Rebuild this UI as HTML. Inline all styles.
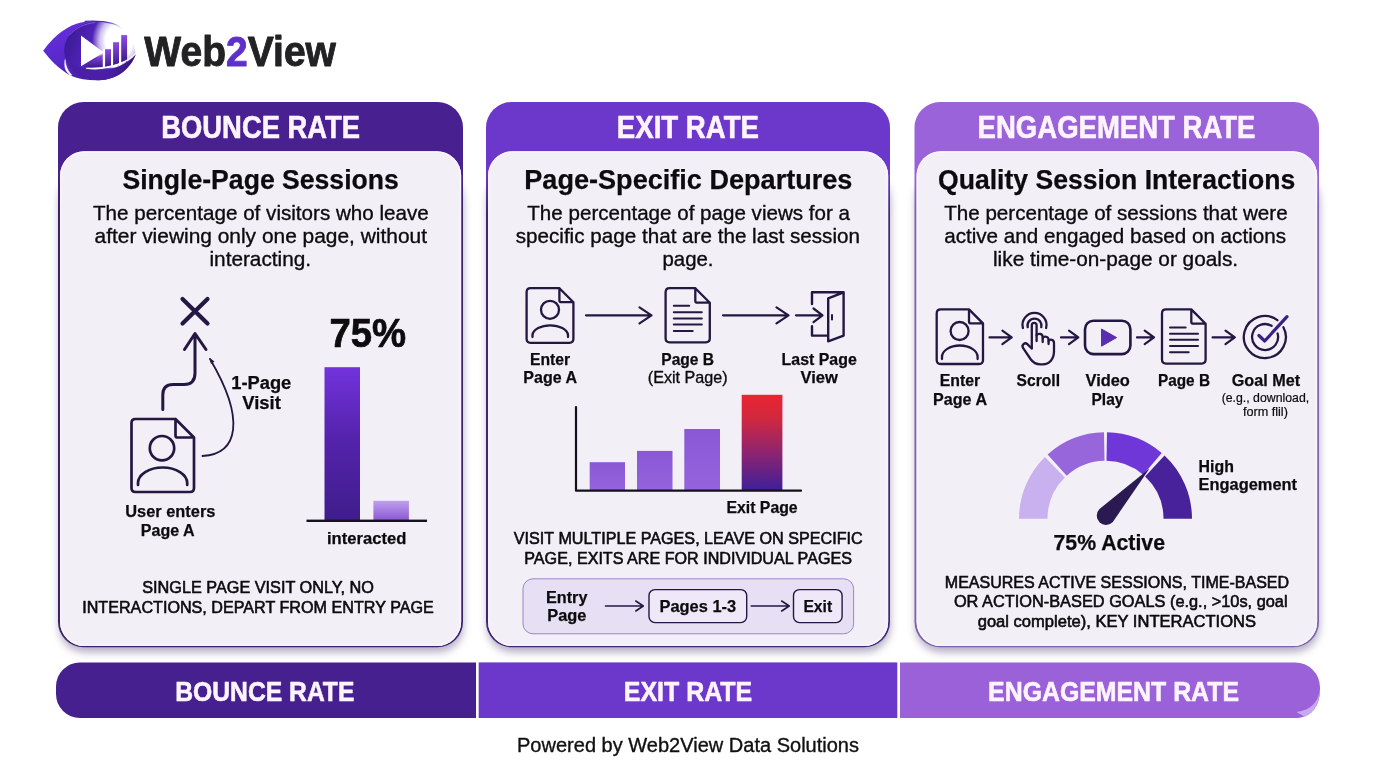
<!DOCTYPE html>
<html lang="en">
<head>
<meta charset="utf-8">
<title>Web2View - Bounce Rate vs Exit Rate vs Engagement Rate</title>
<style>
html,body{margin:0;padding:0;background:#ffffff;}
body{width:1376px;height:768px;overflow:hidden;position:relative;}
svg{position:absolute;left:0;top:0;display:block;}
svg text{font-family:"Liberation Sans",sans-serif;white-space:pre;}
</style>
</head>
<body>
<svg width="1376" height="768" viewBox="0 0 1376 768">
<defs>
<filter id="blur" x="-10%" y="-10%" width="120%" height="120%"><feGaussianBlur stdDeviation="4.5"/></filter>
<filter id="sh" x="-10%" y="-10%" width="120%" height="125%"><feGaussianBlur in="SourceAlpha" stdDeviation="5"/><feOffset dx="1" dy="4"/><feComponentTransfer><feFuncA type="linear" slope="0.28"/></feComponentTransfer><feMerge><feMergeNode/><feMergeNode in="SourceGraphic"/></feMerge></filter>
<linearGradient id="bar1" x1="0" y1="0" x2="0" y2="1"><stop offset="0" stop-color="#7233dc"/><stop offset="0.45" stop-color="#5523ad"/><stop offset="1" stop-color="#3f1d8c"/></linearGradient>
<linearGradient id="bar2" x1="0" y1="0" x2="0" y2="1"><stop offset="0" stop-color="#bfa0ee"/><stop offset="1" stop-color="#8a57d2"/></linearGradient>
<linearGradient id="barp" x1="0" y1="0" x2="0" y2="1"><stop offset="0" stop-color="#8a58d6"/><stop offset="1" stop-color="#9463dc"/></linearGradient>
<linearGradient id="barr" x1="0" y1="0" x2="0" y2="1"><stop offset="0" stop-color="#ea2430"/><stop offset="0.25" stop-color="#d0283f"/><stop offset="0.6" stop-color="#8f2470"/><stop offset="1" stop-color="#3d1f98"/></linearGradient>
<linearGradient id="h1" x1="0" y1="0" x2="1" y2="0"><stop offset="0" stop-color="#4a1f9e"/><stop offset="1" stop-color="#471e96"/></linearGradient>
<linearGradient id="eye" x1="0" y1="0" x2="0.6" y2="1"><stop offset="0" stop-color="#6a30e2"/><stop offset="0.6" stop-color="#5628c8"/><stop offset="1" stop-color="#42209e"/></linearGradient>
<radialGradient id="iris" cx="0.68" cy="0.25" r="0.55"><stop offset="0" stop-color="#ffffff"/><stop offset="0.22" stop-color="#efe6ff"/><stop offset="0.5" stop-color="#6d30d6"/><stop offset="1" stop-color="#3a1a8a"/></radialGradient>
<linearGradient id="lb" x1="0" y1="0" x2="0" y2="1"><stop offset="0" stop-color="#8f4ae4"/><stop offset="1" stop-color="#3b1a8c"/></linearGradient>
<linearGradient id="irisbase" x1="0" y1="0.3" x2="1" y2="0.6"><stop offset="0" stop-color="#3a1a92"/><stop offset="0.25" stop-color="#4a20ae"/><stop offset="0.55" stop-color="#5a28c8"/><stop offset="1" stop-color="#3a1a8a"/></linearGradient>
<radialGradient id="hl" cx="0.5" cy="0.5" r="0.5"><stop offset="0" stop-color="#ffffff" stop-opacity="1"/><stop offset="0.5" stop-color="#ffffff" stop-opacity="1"/><stop offset="0.72" stop-color="#ffffff" stop-opacity="0.7"/><stop offset="1" stop-color="#ffffff" stop-opacity="0"/></radialGradient>
<linearGradient id="topl" gradientUnits="userSpaceOnUse" x1="85" y1="0" x2="122" y2="0"><stop offset="0" stop-color="#4a22b0"/><stop offset="0.6" stop-color="#4a22b0" stop-opacity="0.9"/><stop offset="1" stop-color="#4a22b0" stop-opacity="0"/></linearGradient>
<linearGradient id="cres" x1="0" y1="0" x2="1" y2="0"><stop offset="0" stop-color="#4a1fa6"/><stop offset="0.6" stop-color="#4a1fa6"/><stop offset="1" stop-color="#35177c"/></linearGradient>
</defs>
<g id="logo">
<path d="M43.2,50.8 C45,48.5 47,45.6 49.1,43.3 C52,40 55,37 58.2,34.2 C61,31.8 64,29.7 67.3,27.9 C70.2,26.2 73.3,24.8 76.5,23.7 C79.5,22.8 82.5,22.2 85.6,21.8 C89,21.3 93,20.9 96.4,20.9 C103,21 109,22 114.1,23.5 C120,25.5 126,30 129.5,36 C132.5,41 134.5,47 135.8,54.2 C133.5,60 131,63.5 127.7,66.2 C124,71 119,74.5 114.1,76.6 C109,79 104,80.2 98.5,80.2 C93,80.3 88,80 82.9,79.2 C78.5,78.4 74.6,77.2 71,75.7 C69,74.8 67.2,73.7 65.5,72.5 C63,70.8 60.5,69 58.2,67 C55,64.2 52,61 49.1,57.9 C47,55.6 45,53 43.2,50.8 Z" fill="url(#eye)"/>
<ellipse cx="99" cy="50.5" rx="34.8" ry="29.6" fill="url(#irisbase)"/>
<clipPath id="irc"><path d="M60,15 H140 V85 H60 Z"/></clipPath>
<g clip-path="url(#irc)"><ellipse cx="119" cy="41" rx="27" ry="33" fill="url(#hl)"/></g>
<path d="M69.5,35 C75,28.5 84,23.6 95,22.6" fill="none" stroke="#8d62ee" stroke-width="0.9" stroke-linecap="round" opacity="0.85"/>
<path d="M85,21.4 C93,20.6 104,21.4 112.3,23.4 C116,24.4 119,26 121,28" fill="none" stroke="url(#topl)" stroke-width="1.1" stroke-linecap="round"/>
<path d="M65.1,59.6 C65.3,63 66.3,67 68.3,70.5 C69.3,72.3 70.4,73.6 71.6,74.6 L71,76 C67.5,73 65.5,70.5 64.9,67 C64.5,64.5 64.6,62 65.1,59.6 Z" fill="#fff" stroke="#fff" stroke-width="0.5" stroke-linejoin="round"/>
<path d="M81,35.6 L103.8,52.6 L81,66.3 Z" fill="#fff"/>
<path d="M83,66.6 L102.8,54.6 L102.8,67.4 Z" fill="url(#lb)"/>
<rect x="102.8" y="49" width="19" height="18.6" fill="#fff"/>
<rect x="105.1" y="49.2" width="5.9" height="18" fill="url(#lb)"/>
<rect x="113.1" y="42.2" width="5.9" height="23" fill="url(#lb)"/>
<rect x="121.2" y="35.1" width="5.9" height="27" fill="url(#lb)"/>
<path d="M66.5,61 C70,71 81,80.2 98.5,80.2 C116,80.2 131,69 135.8,54.2 C127,64.5 113,69.8 100,70.3 C93,70.6 87,69.8 83,68.4 L80.5,67.2 C75,66 70,64 66.5,61 Z" fill="url(#cres)"/>
<path d="M86.5,68.2 C101,70.8 124,66 135.6,53.6 C126,63.8 105,69.6 86.5,68.2 Z" fill="#fff" stroke="#fff" stroke-width="1.1" stroke-linejoin="round"/>
</g>
<text x="144.3" y="66.2" font-size="41.8" font-weight="700" fill="#222224" stroke="#222224" stroke-width="0.9" stroke-linejoin="round" textLength="191.7" lengthAdjust="spacingAndGlyphs">Web<tspan fill="#5d30c9" stroke="#5d30c9">2</tspan>View</text>
<linearGradient id="c1" gradientUnits="userSpaceOnUse" x1="0" y1="102" x2="0" y2="647"><stop offset="0" stop-color="#48208f"/><stop offset="0.13" stop-color="#48208f"/><stop offset="0.2" stop-color="#3a2469"/><stop offset="1" stop-color="#3a2469"/></linearGradient>
<rect x="59.5" y="175" width="403.5" height="477" rx="25" fill="#46366f" opacity="0.42" filter="url(#blur)"/>
<rect x="58" y="102" width="405" height="545.3" rx="25.5" fill="url(#c1)"/>
<rect x="60" y="151.2" width="401.2" height="494.9" rx="24.4" fill="#f2eff7"/>
<rect x="60.9" y="152.1" width="399.4" height="493.1" rx="23.5" fill="none" stroke="#f9f3ff" stroke-width="1.6"/>
<linearGradient id="c2" gradientUnits="userSpaceOnUse" x1="0" y1="102" x2="0" y2="647"><stop offset="0" stop-color="#6c37cb"/><stop offset="0.13" stop-color="#6c37cb"/><stop offset="0.2" stop-color="#41297a"/><stop offset="1" stop-color="#41297a"/></linearGradient>
<rect x="487.5" y="175" width="402.5" height="477" rx="25" fill="#46366f" opacity="0.42" filter="url(#blur)"/>
<rect x="486" y="102" width="404" height="545.3" rx="25.5" fill="url(#c2)"/>
<rect x="488" y="151.2" width="400.2" height="494.9" rx="24.4" fill="#f2eff7"/>
<rect x="488.9" y="152.1" width="398.4" height="493.1" rx="23.5" fill="none" stroke="#f9f3ff" stroke-width="1.6"/>
<linearGradient id="c3" gradientUnits="userSpaceOnUse" x1="0" y1="102" x2="0" y2="647"><stop offset="0" stop-color="#9a63d9"/><stop offset="0.13" stop-color="#9a63d9"/><stop offset="0.2" stop-color="#7d63ac"/><stop offset="1" stop-color="#7d63ac"/></linearGradient>
<rect x="916.0" y="175" width="403.0" height="477" rx="25" fill="#46366f" opacity="0.42" filter="url(#blur)"/>
<rect x="914.5" y="102" width="404.5" height="545.3" rx="25.5" fill="url(#c3)"/>
<rect x="916.5" y="151.2" width="400.7" height="494.9" rx="24.4" fill="#f2eff7"/>
<rect x="917.4" y="152.1" width="398.9" height="493.1" rx="23.5" fill="none" stroke="#f9f3ff" stroke-width="1.6"/>
<text x="161.3" y="137.8" font-size="31" font-weight="700" fill="#fdf4ff" textLength="198.7" lengthAdjust="spacingAndGlyphs" stroke="#fdf4ff" stroke-width="0.6" stroke-linejoin="round">BOUNCE RATE</text>
<text x="616.8" y="137.8" font-size="31" font-weight="700" fill="#fdf4ff" textLength="142.2" lengthAdjust="spacingAndGlyphs" stroke="#fdf4ff" stroke-width="0.6" stroke-linejoin="round">EXIT RATE</text>
<text x="977.6" y="137.8" font-size="31" font-weight="700" fill="#fdf4ff" textLength="277.9" lengthAdjust="spacingAndGlyphs" stroke="#fdf4ff" stroke-width="0.6" stroke-linejoin="round">ENGAGEMENT RATE</text>
<text x="122.5" y="189.0" font-size="27.5" font-weight="700" fill="#0c0c0e" textLength="276.3" lengthAdjust="spacingAndGlyphs" stroke="#0c0c0e" stroke-width="0.25" stroke-linejoin="round">Single-Page Sessions</text>
<text x="524.3" y="189.0" font-size="27.5" font-weight="700" fill="#0c0c0e" textLength="328.1" lengthAdjust="spacingAndGlyphs" stroke="#0c0c0e" stroke-width="0.25" stroke-linejoin="round">Page-Specific Departures</text>
<text x="938.0" y="189.0" font-size="27.5" font-weight="700" fill="#0c0c0e" textLength="357.2" lengthAdjust="spacingAndGlyphs" stroke="#0c0c0e" stroke-width="0.25" stroke-linejoin="round">Quality Session Interactions</text>
<text x="93.0" y="219.6" font-size="20.3" font-weight="400" fill="#0c0c0e" textLength="335.8" lengthAdjust="spacingAndGlyphs" stroke="#0c0c0e" stroke-width="0.35" stroke-linejoin="round">The percentage of visitors who leave</text>
<text x="94.5" y="242.5" font-size="20.3" font-weight="400" fill="#0c0c0e" textLength="332.5" lengthAdjust="spacingAndGlyphs" stroke="#0c0c0e" stroke-width="0.35" stroke-linejoin="round">after viewing only one page, without</text>
<text x="209.5" y="265.5" font-size="20.3" font-weight="400" fill="#0c0c0e" textLength="101.5" lengthAdjust="spacingAndGlyphs" stroke="#0c0c0e" stroke-width="0.35" stroke-linejoin="round">interacting.</text>
<text x="527.3" y="219.6" font-size="20.3" font-weight="400" fill="#0c0c0e" textLength="322.7" lengthAdjust="spacingAndGlyphs" stroke="#0c0c0e" stroke-width="0.35" stroke-linejoin="round">The percentage of page views for a</text>
<text x="515.7" y="242.5" font-size="20.3" font-weight="400" fill="#0c0c0e" textLength="344.3" lengthAdjust="spacingAndGlyphs" stroke="#0c0c0e" stroke-width="0.35" stroke-linejoin="round">specific page that are the last session</text>
<text x="662.5" y="265.5" font-size="20.3" font-weight="400" fill="#0c0c0e" textLength="51.0" lengthAdjust="spacingAndGlyphs" stroke="#0c0c0e" stroke-width="0.35" stroke-linejoin="round">page.</text>
<text x="944.2" y="219.6" font-size="20.3" font-weight="400" fill="#0c0c0e" textLength="343.4" lengthAdjust="spacingAndGlyphs" stroke="#0c0c0e" stroke-width="0.35" stroke-linejoin="round">The percentage of sessions that were</text>
<text x="944.2" y="242.5" font-size="20.3" font-weight="400" fill="#0c0c0e" textLength="341.8" lengthAdjust="spacingAndGlyphs" stroke="#0c0c0e" stroke-width="0.35" stroke-linejoin="round">active and engaged based on actions</text>
<text x="993.0" y="265.5" font-size="20.3" font-weight="400" fill="#0c0c0e" textLength="245.1" lengthAdjust="spacingAndGlyphs" stroke="#0c0c0e" stroke-width="0.35" stroke-linejoin="round">like time-on-page or goals.</text>
<path d="M182.5,299 L207.5,323.5 M207.5,299 L182.5,323.5" stroke="#241742" stroke-width="4.2" stroke-linecap="round" fill="none"/>
<path d="M184.5,349.5 L195,333.5 L206,349.5 M195,334 V373 Q195,384.5 184,384.5 H173 Q162.8,384.5 162.8,395 V409.5" stroke="#241742" stroke-width="3" stroke-linecap="round" stroke-linejoin="round" fill="none"/>
<path d="M202.5,456 C238,454 246,420 210,359" stroke="#241742" stroke-width="1.8" stroke-linecap="round" fill="none"/>
<path d="M209.3,357.8 L214.5,361.5 L211,364 Z" fill="#241742"/>
<path d="M175.5,419.0 H135.5 Q131.5,419.0 131.5,423.0 V488.0 Q131.5,492.0 135.5,492.0 H190.0 Q194.0,492.0 194.0,488.0 V437.5 L175.5,419.0 V435.5 Q175.5,437.5 177.5,437.5 H194.0" fill="none" stroke="#241742" stroke-width="2.7" stroke-linejoin="round" stroke-linecap="round"/>
<circle cx="162.0" cy="448.2" r="12.2" fill="none" stroke="#241742" stroke-width="2.7"/>
<path d="M138.0,485.0 V483.0 A24.6,15.5 0 0 1 187.2,483.0 V485.0" fill="none" stroke="#241742" stroke-width="2.7" stroke-linecap="round"/>
<text x="231.3" y="388.5" font-size="18" font-weight="700" fill="#0c0c0e" textLength="60.0" lengthAdjust="spacingAndGlyphs" stroke="#0c0c0e" stroke-width="0.25" stroke-linejoin="round">1-Page</text>
<text x="242.2" y="409.0" font-size="18" font-weight="700" fill="#0c0c0e" textLength="38.6" lengthAdjust="spacingAndGlyphs" stroke="#0c0c0e" stroke-width="0.25" stroke-linejoin="round">Visit</text>
<text x="125.3" y="516.9" font-size="17.4" font-weight="700" fill="#0c0c0e" textLength="90.1" lengthAdjust="spacingAndGlyphs" stroke="#0c0c0e" stroke-width="0.25" stroke-linejoin="round">User enters</text>
<text x="140.8" y="535.6" font-size="17.4" font-weight="700" fill="#0c0c0e" textLength="53.8" lengthAdjust="spacingAndGlyphs" stroke="#0c0c0e" stroke-width="0.25" stroke-linejoin="round">Page A</text>
<text x="329.5" y="346.6" font-size="41" font-weight="700" fill="#0c0c0e" textLength="76.7" lengthAdjust="spacingAndGlyphs" stroke="#0c0c0e" stroke-width="0.7" stroke-linejoin="round">75%</text>
<rect x="324.5" y="367.2" width="35.5" height="153.5" fill="url(#bar1)"/>
<rect x="373.4" y="500.8" width="35.5" height="20" fill="url(#bar2)"/>
<rect x="306.5" y="519.6" width="120.5" height="2.4" fill="#16101f"/>
<text x="327.0" y="543.8" font-size="17.4" font-weight="700" fill="#0c0c0e" textLength="79.5" lengthAdjust="spacingAndGlyphs" stroke="#0c0c0e" stroke-width="0.25" stroke-linejoin="round">interacted</text>
<text x="142.2" y="592.6" font-size="17" font-weight="400" fill="#0c0c0e" textLength="231.8" lengthAdjust="spacingAndGlyphs" stroke="#0c0c0e" stroke-width="0.6" stroke-linejoin="round">SINGLE PAGE VISIT ONLY, NO</text>
<text x="82.2" y="612.8" font-size="17" font-weight="400" fill="#0c0c0e" textLength="351.6" lengthAdjust="spacingAndGlyphs" stroke="#0c0c0e" stroke-width="0.6" stroke-linejoin="round">INTERACTIONS, DEPART FROM ENTRY PAGE</text>
<path d="M559.4,288.2 H530.6 Q526.6,288.2 526.6,292.2 V338.8 Q526.6,342.8 530.6,342.8 H569.4 Q573.4,342.8 573.4,338.8 V302.2 L559.4,288.2 V300.2 Q559.4,302.2 561.4,302.2 H573.4" fill="none" stroke="#241742" stroke-width="2.3" stroke-linejoin="round" stroke-linecap="round"/>
<circle cx="550.0" cy="309.8" r="9.0" fill="none" stroke="#241742" stroke-width="2.3"/>
<path d="M532.5,337.0 V335.0 A17.8,10.5 0 0 1 568.0,335.0 V337.0" fill="none" stroke="#241742" stroke-width="2.3" stroke-linecap="round"/>
<path d="M586.0,315.3 H651.5 M639.5,307.3 L651.5,315.3 L639.5,323.3" fill="none" stroke="#241742" stroke-width="2.2" stroke-linecap="round" stroke-linejoin="round"/>
<path d="M695.3,288.2 H669.6 Q665.6,288.2 665.6,292.2 V338.3 Q665.6,342.3 669.6,342.3 H705.8 Q709.8,342.3 709.8,338.3 V302.7 L695.3,288.2 V300.7 Q695.3,302.7 697.3,302.7 H709.8" fill="none" stroke="#241742" stroke-width="2.3" stroke-linejoin="round" stroke-linecap="round"/>
<line x1="673.8" y1="305.8" x2="689.2" y2="305.8" stroke="#241742" stroke-width="2" stroke-linecap="round"/>
<line x1="673.8" y1="312.2" x2="701.8" y2="312.2" stroke="#241742" stroke-width="2" stroke-linecap="round"/>
<line x1="673.8" y1="318.4" x2="701.8" y2="318.4" stroke="#241742" stroke-width="2" stroke-linecap="round"/>
<line x1="673.8" y1="324.6" x2="701.8" y2="324.6" stroke="#241742" stroke-width="2" stroke-linecap="round"/>
<line x1="673.8" y1="330.9" x2="692.7" y2="330.9" stroke="#241742" stroke-width="2" stroke-linecap="round"/>
<path d="M723.0,315.3 H788.5 M776.5,307.3 L788.5,315.3 L776.5,323.3" fill="none" stroke="#241742" stroke-width="2.2" stroke-linecap="round" stroke-linejoin="round"/>
<path d="M796.0,315.3 H822.5 M813.5,308.5 L822.5,315.3 L813.5,322.1" fill="none" stroke="#241742" stroke-width="2.2" stroke-linecap="round" stroke-linejoin="round"/>
<path d="M812,304 V292.3 H843.6 L828.2,298.3 V341.3 L843.6,335.6 V292.3 M812,326.3 V335.6 H828.2" fill="none" stroke="#241742" stroke-width="2.4" stroke-linejoin="round" stroke-linecap="round"/>
<line x1="832" y1="315" x2="832" y2="319.5" stroke="#241742" stroke-width="2" stroke-linecap="round"/>
<text x="530.0" y="364.5" font-size="16.6" font-weight="700" fill="#0c0c0e" textLength="40.2" lengthAdjust="spacingAndGlyphs" stroke="#0c0c0e" stroke-width="0.25" stroke-linejoin="round">Enter</text>
<text x="523.3" y="383.0" font-size="16.6" font-weight="700" fill="#0c0c0e" textLength="53.7" lengthAdjust="spacingAndGlyphs" stroke="#0c0c0e" stroke-width="0.25" stroke-linejoin="round">Page A</text>
<text x="661.3" y="364.5" font-size="16.6" font-weight="700" fill="#0c0c0e" textLength="52.8" lengthAdjust="spacingAndGlyphs" stroke="#0c0c0e" stroke-width="0.25" stroke-linejoin="round">Page B</text>
<text x="647.8" y="383.0" font-size="16.6" font-weight="400" fill="#0c0c0e" textLength="79.9" lengthAdjust="spacingAndGlyphs" stroke="#0c0c0e" stroke-width="0.35" stroke-linejoin="round">(Exit Page)</text>
<text x="781.6" y="364.5" font-size="16.6" font-weight="700" fill="#0c0c0e" textLength="75.2" lengthAdjust="spacingAndGlyphs" stroke="#0c0c0e" stroke-width="0.25" stroke-linejoin="round">Last Page</text>
<text x="800.5" y="383.0" font-size="16.6" font-weight="700" fill="#0c0c0e" textLength="37.5" lengthAdjust="spacingAndGlyphs" stroke="#0c0c0e" stroke-width="0.25" stroke-linejoin="round">View</text>
<rect x="589.7" y="462.2" width="35.3" height="28.5" fill="url(#barp)"/>
<rect x="637" y="450.9" width="35.5" height="40" fill="url(#barp)"/>
<rect x="684.3" y="429" width="35.7" height="62" fill="url(#barp)"/>
<rect x="741.7" y="394.8" width="40.7" height="96" fill="url(#barr)"/>
<path d="M576,407 V490.7 H801" fill="none" stroke="#15101e" stroke-width="2.2" stroke-linecap="round" stroke-linejoin="round"/>
<text x="726.4" y="512.5" font-size="17" font-weight="700" fill="#0c0c0e" textLength="71.3" lengthAdjust="spacingAndGlyphs" stroke="#0c0c0e" stroke-width="0.25" stroke-linejoin="round">Exit Page</text>
<text x="513.8" y="543.8" font-size="17" font-weight="400" fill="#0c0c0e" textLength="348.9" lengthAdjust="spacingAndGlyphs" stroke="#0c0c0e" stroke-width="0.6" stroke-linejoin="round">VISIT MULTIPLE PAGES, LEAVE ON SPECIFIC</text>
<text x="524.3" y="564.2" font-size="17" font-weight="400" fill="#0c0c0e" textLength="327.7" lengthAdjust="spacingAndGlyphs" stroke="#0c0c0e" stroke-width="0.6" stroke-linejoin="round">PAGE, EXITS ARE FOR INDIVIDUAL PAGES</text>
<rect x="523" y="578.8" width="330.6" height="55" rx="10" fill="#e7e0f5" stroke="#9c84cc" stroke-width="1"/>
<text x="546.0" y="602.8" font-size="17" font-weight="700" fill="#0c0c0e" textLength="41.4" lengthAdjust="spacingAndGlyphs" stroke="#0c0c0e" stroke-width="0.25" stroke-linejoin="round">Entry</text>
<text x="547.3" y="621.0" font-size="17" font-weight="700" fill="#0c0c0e" textLength="39.2" lengthAdjust="spacingAndGlyphs" stroke="#0c0c0e" stroke-width="0.25" stroke-linejoin="round">Page</text>
<path d="M605.5,606.0 H643.3 M635.8,601.0 L643.3,606.0 L635.8,611.0" fill="none" stroke="#241742" stroke-width="1.6" stroke-linecap="round" stroke-linejoin="round"/>
<rect x="649" y="589.6" width="97.7" height="33" rx="6" fill="#eee8f9" stroke="#241742" stroke-width="1.4"/>
<text x="659.5" y="611.8" font-size="17" font-weight="700" fill="#0c0c0e" textLength="76.7" lengthAdjust="spacingAndGlyphs" stroke="#0c0c0e" stroke-width="0.25" stroke-linejoin="round">Pages 1-3</text>
<path d="M751.2,606.0 H789.2 M781.7,601.0 L789.2,606.0 L781.7,611.0" fill="none" stroke="#241742" stroke-width="1.6" stroke-linecap="round" stroke-linejoin="round"/>
<rect x="793.5" y="589.6" width="48.6" height="33" rx="6" fill="#eee8f9" stroke="#241742" stroke-width="1.4"/>
<text x="803.4" y="611.8" font-size="17" font-weight="700" fill="#0c0c0e" textLength="28.8" lengthAdjust="spacingAndGlyphs" stroke="#0c0c0e" stroke-width="0.25" stroke-linejoin="round">Exit</text>
<path d="M969.0,309.4 H940.7 Q936.7,309.4 936.7,313.4 V360.0 Q936.7,364.0 940.7,364.0 H979.0 Q983.0,364.0 983.0,360.0 V323.4 L969.0,309.4 V321.4 Q969.0,323.4 971.0,323.4 H983.0" fill="none" stroke="#241742" stroke-width="2.3" stroke-linejoin="round" stroke-linecap="round"/>
<circle cx="959.6" cy="331.0" r="9.0" fill="none" stroke="#241742" stroke-width="2.3"/>
<path d="M942.0,359.0 V357.0 A17.8,11.5 0 0 1 977.6,357.0 V359.0" fill="none" stroke="#241742" stroke-width="2.3" stroke-linecap="round"/>
<path d="M989.5,337.4 H1011.7 M1002.4,330.6 L1011.7,337.4 L1002.4,344.2" fill="none" stroke="#241742" stroke-width="2.2" stroke-linecap="round" stroke-linejoin="round"/>
<g fill="none" stroke="#241742" stroke-width="2.3" stroke-linecap="round" stroke-linejoin="round">
<path d="M1022.9,328 A12,12 0 1 1 1046.1,328"/>
<path d="M1027.7,327.2 A7,7 0 1 1 1041.3,327.2"/>
<path d="M1031.8,348.3 V325.2 A2.4,2.4 0 0 1 1036.6,325.2 V341"/>
<path d="M1036.6,335.2 C1038,333 1042.7,333.3 1042.7,337.2 V342"/>
<path d="M1042.7,338 C1044,335.8 1048.6,336.2 1048.6,340 V344"/>
<path d="M1048.6,341 C1050,338.8 1054,339.4 1054,343 V351 C1054,359 1049.5,364.4 1042.5,364.4 H1040.5 C1036,364.4 1033,362.5 1030.5,359 L1023.2,348.2 C1021,344.8 1024.8,341.8 1027.6,344.4 L1031.8,348.5"/>
</g>
<path d="M1061.0,337.4 H1078.3 M1069.0,330.6 L1078.3,337.4 L1069.0,344.2" fill="none" stroke="#241742" stroke-width="2.2" stroke-linecap="round" stroke-linejoin="round"/>
<rect x="1085" y="320.7" width="45.4" height="33.4" rx="8.5" fill="none" stroke="#241742" stroke-width="2.6"/>
<path d="M1101.5,329 L1116.6,337.6 L1101.5,346.2 Z" fill="#5a2eb2" stroke="#5a2eb2" stroke-width="1" stroke-linejoin="round"/>
<path d="M1137.0,337.4 H1154.0 M1144.7,330.6 L1154.0,337.4 L1144.7,344.2" fill="none" stroke="#241742" stroke-width="2.2" stroke-linecap="round" stroke-linejoin="round"/>
<path d="M1191.3,309.4 H1166.0 Q1162.0,309.4 1162.0,313.4 V359.6 Q1162.0,363.6 1166.0,363.6 H1201.6 Q1205.6,363.6 1205.6,359.6 V323.7 L1191.3,309.4 V321.7 Q1191.3,323.7 1193.3,323.7 H1205.6" fill="none" stroke="#241742" stroke-width="2.3" stroke-linejoin="round" stroke-linecap="round"/>
<line x1="1170.0" y1="327.4" x2="1185.6" y2="327.4" stroke="#241742" stroke-width="2" stroke-linecap="round"/>
<line x1="1170.0" y1="333.8" x2="1198.0" y2="333.8" stroke="#241742" stroke-width="2" stroke-linecap="round"/>
<line x1="1170.0" y1="339.8" x2="1198.0" y2="339.8" stroke="#241742" stroke-width="2" stroke-linecap="round"/>
<line x1="1170.0" y1="346.0" x2="1198.0" y2="346.0" stroke="#241742" stroke-width="2" stroke-linecap="round"/>
<line x1="1170.0" y1="352.2" x2="1188.7" y2="352.2" stroke="#241742" stroke-width="2" stroke-linecap="round"/>
<path d="M1212.6,337.4 H1234.8 M1225.5,330.6 L1234.8,337.4 L1225.5,344.2" fill="none" stroke="#241742" stroke-width="2.2" stroke-linecap="round" stroke-linejoin="round"/>
<path d="M1277.4,320.2 A21,21 0 1 0 1283.4,327.2" fill="none" stroke="#241742" stroke-width="2.3" stroke-linecap="round"/>
<path d="M1271.6,325.8 A13,13 0 1 0 1277.6,333.5" fill="none" stroke="#241742" stroke-width="2.3" stroke-linecap="round"/>
<path d="M1258.9,335.5 L1264.7,341 L1287,316.6" fill="none" stroke="#3b2180" stroke-width="3.2" stroke-linecap="round" stroke-linejoin="round"/>
<text x="939.7" y="386.2" font-size="16.6" font-weight="700" fill="#0c0c0e" textLength="40.5" lengthAdjust="spacingAndGlyphs" stroke="#0c0c0e" stroke-width="0.25" stroke-linejoin="round">Enter</text>
<text x="933.1" y="405.2" font-size="16.6" font-weight="700" fill="#0c0c0e" textLength="53.9" lengthAdjust="spacingAndGlyphs" stroke="#0c0c0e" stroke-width="0.25" stroke-linejoin="round">Page A</text>
<text x="1016.6" y="386.2" font-size="16.6" font-weight="700" fill="#0c0c0e" textLength="43.4" lengthAdjust="spacingAndGlyphs" stroke="#0c0c0e" stroke-width="0.25" stroke-linejoin="round">Scroll</text>
<text x="1085.5" y="386.2" font-size="16.6" font-weight="700" fill="#0c0c0e" textLength="44.3" lengthAdjust="spacingAndGlyphs" stroke="#0c0c0e" stroke-width="0.25" stroke-linejoin="round">Video</text>
<text x="1091.5" y="405.2" font-size="16.6" font-weight="700" fill="#0c0c0e" textLength="31.9" lengthAdjust="spacingAndGlyphs" stroke="#0c0c0e" stroke-width="0.25" stroke-linejoin="round">Play</text>
<text x="1157.9" y="386.2" font-size="16.6" font-weight="700" fill="#0c0c0e" textLength="52.1" lengthAdjust="spacingAndGlyphs" stroke="#0c0c0e" stroke-width="0.25" stroke-linejoin="round">Page B</text>
<text x="1231.7" y="386.2" font-size="16.6" font-weight="700" fill="#0c0c0e" textLength="68.4" lengthAdjust="spacingAndGlyphs" stroke="#0c0c0e" stroke-width="0.25" stroke-linejoin="round">Goal Met</text>
<text x="1221.7" y="401.6" font-size="12.6" font-weight="400" fill="#0c0c0e" textLength="87.5" lengthAdjust="spacingAndGlyphs" stroke="#0c0c0e" stroke-width="0.2" stroke-linejoin="round">(e.g., download,</text>
<text x="1242.9" y="415.5" font-size="12.6" font-weight="400" fill="#0c0c0e" textLength="45.0" lengthAdjust="spacingAndGlyphs" stroke="#0c0c0e" stroke-width="0.2" stroke-linejoin="round">form flil)</text>
<path d="M1019.0,518.8 A86.5,86.5 0 0 1 1044.9,457.1 L1064.8,477.4 A58,58 0 0 0 1047.5,518.8 Z" fill="#c9b1ef"/>
<path d="M1047.6,454.5 A86.5,86.5 0 0 1 1104.0,432.3 L1104.5,460.8 A58,58 0 0 0 1066.7,475.7 Z" fill="#9766db"/>
<path d="M1107.0,432.3 A86.5,86.5 0 0 1 1161.7,453.0 L1143.2,474.7 A58,58 0 0 0 1106.5,460.8 Z" fill="#7037d8"/>
<path d="M1164.5,455.5 A86.5,86.5 0 0 1 1192.0,518.8 L1163.5,518.8 A58,58 0 0 0 1145.1,476.4 Z" fill="#48229a"/>
<path d="M1149.5,468.5 L1112.8,522 A9.3,9.3 0 1 1 1099.5,509 Z" fill="#2b1a52"/>
<text x="1198.6" y="471.6" font-size="17" font-weight="700" fill="#0c0c0e" textLength="35.3" lengthAdjust="spacingAndGlyphs" stroke="#0c0c0e" stroke-width="0.25" stroke-linejoin="round">High</text>
<text x="1198.6" y="490.0" font-size="17" font-weight="700" fill="#0c0c0e" textLength="98.4" lengthAdjust="spacingAndGlyphs" stroke="#0c0c0e" stroke-width="0.25" stroke-linejoin="round">Engagement</text>
<text x="1053.5" y="550.2" font-size="22" font-weight="700" fill="#0c0c0e" textLength="111.5" lengthAdjust="spacingAndGlyphs" stroke="#0c0c0e" stroke-width="0.25" stroke-linejoin="round">75% Active</text>
<text x="944.8" y="587.5" font-size="17" font-weight="400" fill="#0c0c0e" textLength="344.3" lengthAdjust="spacingAndGlyphs" stroke="#0c0c0e" stroke-width="0.6" stroke-linejoin="round">MEASURES ACTIVE SESSIONS, TIME-BASED</text>
<text x="953.9" y="607.3" font-size="17" font-weight="400" fill="#0c0c0e" textLength="333.7" lengthAdjust="spacingAndGlyphs" stroke="#0c0c0e" stroke-width="0.6" stroke-linejoin="round">OR ACTION-BASED GOALS (e.g., &gt;10s, goal</text>
<text x="977.7" y="627.4" font-size="17" font-weight="400" fill="#0c0c0e" textLength="278.4" lengthAdjust="spacingAndGlyphs" stroke="#0c0c0e" stroke-width="0.6" stroke-linejoin="round">goal complete), KEY INTERACTIONS</text>
<path d="M80,662.4 H476 V718 H80 A24,24 0 0 1 56,694 V686.4 A24,24 0 0 1 80,662.4 Z" fill="#46208f"/>
<rect x="478.7" y="662.4" width="418.6" height="55.6" fill="#6c37cb"/>
<path d="M900,662.4 H1295 A25,25 0 0 1 1320,687.4 V690 C1320,706 1312,716 1298,718 H900 Z" fill="#9a61d9"/>
<path d="M1320,688 C1319,702 1311,710 1296.5,712 C1300,714 1303,716 1305,716.8 C1314,713 1320,703 1320,688 Z" fill="#c6a9ef"/>
<text x="175.3" y="700.8" font-size="27.5" font-weight="700" fill="#fdf4ff" textLength="179.1" lengthAdjust="spacingAndGlyphs" stroke="#fdf4ff" stroke-width="0.6" stroke-linejoin="round">BOUNCE RATE</text>
<text x="623.8" y="700.8" font-size="27.5" font-weight="700" fill="#fdf4ff" textLength="128.4" lengthAdjust="spacingAndGlyphs" stroke="#fdf4ff" stroke-width="0.6" stroke-linejoin="round">EXIT RATE</text>
<text x="988.1" y="700.8" font-size="27.5" font-weight="700" fill="#fdf4ff" textLength="250.9" lengthAdjust="spacingAndGlyphs" stroke="#fdf4ff" stroke-width="0.6" stroke-linejoin="round">ENGAGEMENT RATE</text>
<text x="517.0" y="751.7" font-size="19.5" font-weight="400" fill="#111" textLength="342.0" lengthAdjust="spacingAndGlyphs" stroke="#111" stroke-width="0.35" stroke-linejoin="round">Powered by Web2View Data Solutions</text>
</svg>
</body>
</html>
